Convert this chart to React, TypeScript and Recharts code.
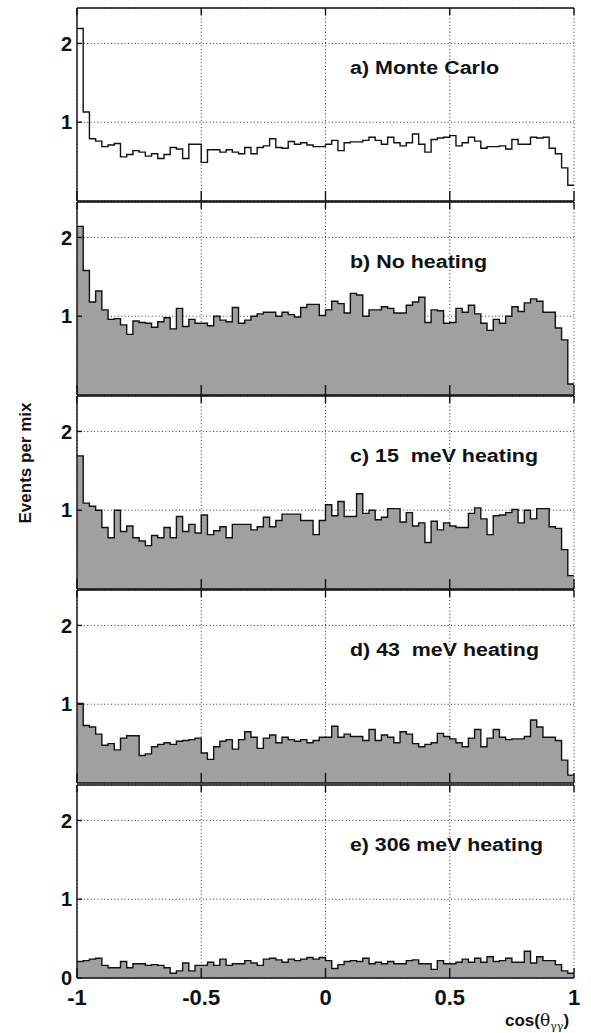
import React from "react";
import { ComposedChart, Area, Line, XAxis, YAxis, CartesianGrid } from "recharts";

// x axis: 80 equal bins on cos(theta_gg) from -1 to 1
const BIN_COUNT = 80;
const xTicks = [-1, -0.5, 0, 0.5, 1];
const xTickLabels = ["-1", "-0.5", "0", "0.5", "1"];
const yTicks = [1, 2];
const yTicksBottom = [0, 1, 2];

// a) Monte Carlo
const monteCarlo = [
  2.19, 1.13, 0.79, 0.76, 0.69, 0.71, 0.73, 0.56, 0.59, 0.64,
  0.62, 0.57, 0.6, 0.54, 0.59, 0.68, 0.66, 0.54, 0.72, 0.72,
  0.49, 0.65, 0.65, 0.62, 0.65, 0.62, 0.6, 0.68, 0.6, 0.68,
  0.7, 0.79, 0.68, 0.67, 0.755, 0.72, 0.74, 0.71, 0.69, 0.69,
  0.72, 0.77, 0.64, 0.74, 0.75, 0.75, 0.77, 0.81, 0.77, 0.72,
  0.81, 0.74, 0.7, 0.74, 0.85, 0.72, 0.62, 0.78, 0.8, 0.81,
  0.83, 0.7, 0.74, 0.81, 0.76, 0.67, 0.69, 0.69, 0.7, 0.66,
  0.78, 0.72, 0.72, 0.81, 0.8, 0.81, 0.67, 0.6, 0.42, 0.2,
];

// b) No heating
const noHeating = [
  2.14, 1.58, 1.18, 1.32, 1.08, 0.96, 0.97, 0.89, 0.77, 0.94,
  0.92, 0.91, 0.86, 0.93, 0.98, 0.84, 1.1, 0.87, 0.96, 0.91,
  0.91, 0.88, 1.0, 0.95, 0.93, 1.11, 0.91, 0.95, 1.0, 1.03,
  1.05, 1.05, 1.0, 1.05, 1.02, 0.99, 1.11, 1.15, 1.15, 1.01,
  1.08, 1.19, 1.16, 1.04, 1.29, 1.27, 1.0, 1.08, 1.08, 1.12,
  1.1, 1.04, 1.04, 1.14, 1.18, 1.24, 0.92, 1.08, 1.07, 0.91,
  0.92, 1.1, 1.05, 1.14, 1.03, 0.91, 0.82, 0.96, 0.91, 1.0,
  1.12, 1.06, 1.17, 1.22, 1.19, 1.05, 1.05, 0.85, 0.7, 0.14,
];

// c) 15 meV heating
const heating15 = [
  1.69, 1.09, 1.05, 1.0, 0.78, 0.65, 1.0, 0.73, 0.8, 0.65,
  0.61, 0.55, 0.68, 0.65, 0.78, 0.65, 0.92, 0.73, 0.82, 0.71,
  0.94, 0.69, 0.74, 0.79, 0.65, 0.82, 0.82, 0.82, 0.75, 0.79,
  0.91, 0.79, 0.87, 0.95, 0.95, 0.95, 0.87, 0.87, 0.69, 0.87,
  1.07, 0.93, 1.11, 0.92, 0.92, 1.21, 0.96, 1.0, 0.88, 0.91,
  1.02, 1.02, 0.85, 0.97, 0.8, 0.84, 0.59, 0.86, 0.75, 0.84,
  0.8, 0.78, 0.78, 0.96, 1.03, 0.89, 0.69, 0.93, 0.94, 0.97,
  1.01, 0.84, 1.0, 0.89, 1.02, 1.02, 0.79, 0.77, 0.5, 0.17,
];

// d) 43 meV heating
const heating43 = [
  1.01, 0.73, 0.71, 0.62, 0.48, 0.5, 0.42, 0.57, 0.6, 0.6,
  0.35, 0.37, 0.46, 0.49, 0.51, 0.49, 0.53, 0.54, 0.55, 0.57,
  0.38, 0.3, 0.46, 0.53, 0.55, 0.43, 0.55, 0.65, 0.58, 0.44,
  0.57, 0.61, 0.51, 0.58, 0.55, 0.53, 0.55, 0.51, 0.54, 0.58,
  0.58, 0.72, 0.58, 0.62, 0.59, 0.59, 0.54, 0.68, 0.54, 0.61,
  0.58, 0.51, 0.65, 0.62, 0.5, 0.46, 0.49, 0.51, 0.63, 0.59,
  0.56, 0.51, 0.46, 0.57, 0.68, 0.46, 0.57, 0.68, 0.58, 0.55,
  0.56, 0.56, 0.59, 0.8, 0.71, 0.58, 0.58, 0.54, 0.29, 0.1,
];

// e) 306 meV heating
const heating306 = [
  0.21, 0.22, 0.24, 0.25, 0.16, 0.13, 0.13, 0.21, 0.13, 0.18,
  0.18, 0.16, 0.17, 0.16, 0.13, 0.06, 0.09, 0.19, 0.09, 0.16,
  0.16, 0.2, 0.16, 0.24, 0.16, 0.18, 0.18, 0.22, 0.19, 0.16,
  0.24, 0.25, 0.23, 0.2, 0.24, 0.22, 0.24, 0.26, 0.24, 0.26,
  0.22, 0.12, 0.17, 0.21, 0.22, 0.21, 0.25, 0.18, 0.2, 0.18,
  0.21, 0.18, 0.18, 0.22, 0.23, 0.18, 0.18, 0.11, 0.22, 0.18,
  0.18, 0.2, 0.24, 0.2, 0.25, 0.2, 0.27, 0.21, 0.22, 0.25,
  0.2, 0.2, 0.34, 0.19, 0.27, 0.22, 0.22, 0.17, 0.09, 0.06,
];

const panelTitles = [
  "a) Monte Carlo",
  "b) No heating",
  "c) 15  meV heating",
  "d) 43  meV heating",
  "e) 306 meV heating",
];
const titleWidths = [149, 137, 188, 189, 193];

const FONT = "'Liberation Sans', Arial, Helvetica, sans-serif";
const INK = "#111";
const PLOT_LEFT = 77;
const PLOT_W = 497;
const PANEL_H = 194;
const PAD = 10;
const panelTops = [7, 201, 395, 589, 784];
const Y_MAX = 2.45;

// one point per bin left edge, plus the closing edge at x = 1
const toSteps = (values: number[]) => {
  const rows = values.map((v, i) => ({ x: -1 + (2 * i) / BIN_COUNT, y: v }));
  rows.push({ x: 1, y: values[values.length - 1] });
  return rows;
};

const frame = { stroke: INK, strokeWidth: 1.4 };
const NoLabel = () => <g />;

function Panel({ values, top, filled, last }: { values: number[]; top: number; filled: boolean; last: boolean }) {
  const axisH = last ? 45 : 1;
  const bottomPad = last ? 0 : PAD - 1;
  const height = PAD + PANEL_H + axisH + bottomPad;
  return (
    <div style={{ position: "absolute", left: 0, top: top - PAD }}>
      <ComposedChart
        width={591}
        height={height}
        data={toSteps(values)}
        margin={{ top: PAD, right: 591 - PLOT_LEFT - PLOT_W, bottom: bottomPad, left: 0 }}
      >
        <CartesianGrid xAxisId="b" yAxisId="l" stroke="#333" strokeWidth={1} strokeDasharray="1 2.4" />
        {filled ? (
          <Area
            xAxisId="b"
            yAxisId="l"
            type="stepAfter"
            dataKey="y"
            stroke={INK}
            strokeWidth={1.4}
            fill="#a0a0a0"
            fillOpacity={1}
            isAnimationActive={false}
          />
        ) : (
          <Line
            xAxisId="b"
            yAxisId="l"
            type="stepAfter"
            dataKey="y"
            stroke={INK}
            strokeWidth={1.4}
            dot={false}
            isAnimationActive={false}
          />
        )}
        <XAxis
          xAxisId="b"
          dataKey="x"
          type="number"
          domain={[-1, 1]}
          ticks={xTicks}
          interval={0}
          height={axisH}
          tickSize={-10}
          tickMargin={21}
          axisLine={frame}
          tickLine={frame}
          tickFormatter={(v: number) => xTickLabels[xTicks.indexOf(v)]}
          tick={last ? { fontSize: 22, fontWeight: 700, fill: INK, fontFamily: FONT } : NoLabel}
        />
        <XAxis
          xAxisId="t"
          orientation="top"
          dataKey="x"
          type="number"
          domain={[-1, 1]}
          ticks={xTicks}
          interval={0}
          height={1}
          tickSize={-7}
          axisLine={frame}
          tickLine={frame}
          tick={NoLabel}
        />
        <YAxis
          yAxisId="l"
          type="number"
          domain={[0, Y_MAX]}
          ticks={last ? yTicksBottom : yTicks}
          interval={0}
          width={PLOT_LEFT}
          tickSize={-5}
          tickMargin={10}
          axisLine={frame}
          tickLine={frame}
          tick={{ fontSize: 20, fontWeight: 700, fill: INK, fontFamily: FONT }}
        />
        <YAxis
          yAxisId="r"
          orientation="right"
          type="number"
          domain={[0, Y_MAX]}
          ticks={yTicks}
          width={0}
          axisLine={frame}
          tickLine={false}
          tick={false}
        />
      </ComposedChart>
    </div>
  );
}

const series = [monteCarlo, noHeating, heating15, heating43, heating306];

export default function App() {
  return (
    <div style={{ position: "absolute", left: 0, top: 0, width: 591, height: 1033, background: "#fff" }}>
      {series.map((values, i) => (
        <Panel key={i} values={values} top={panelTops[i]} filled={i > 0} last={i === series.length - 1} />
      ))}
      <svg
        width={591}
        height={1033}
        style={{ position: "absolute", left: 0, top: 0, pointerEvents: "none" }}
      >
        {panelTitles.map((t, i) => (
          <text
            key={t}
            x={350}
            y={panelTops[i] + 67}
            fontSize={18}
            fontWeight={700}
            fontFamily={FONT}
            fill={INK}
            textLength={titleWidths[i]}
            lengthAdjust="spacingAndGlyphs"
            style={{ whiteSpace: "pre" }}
          >
            {t}
          </text>
        ))}
        <text
          x={31}
          y={463}
          transform="rotate(-90, 31, 463)"
          textAnchor="middle"
          fontSize={17}
          fontWeight={700}
          fontFamily={FONT}
          fill={INK}
          textLength={121}
          lengthAdjust="spacingAndGlyphs"
        >
          Events per mix
        </text>
        <text x={505} y={1026} fontSize={17} fontWeight={700} fontFamily={FONT} fill={INK}>
          cos(
          <tspan fontWeight={400} fontFamily="'DejaVu Serif', serif">θ</tspan>
          <tspan fontSize={11} dy={4} fontWeight={400} fontFamily="'DejaVu Serif', serif">γγ</tspan>
          <tspan dy={-4}>)</tspan>
        </text>
      </svg>
    </div>
  );
}
